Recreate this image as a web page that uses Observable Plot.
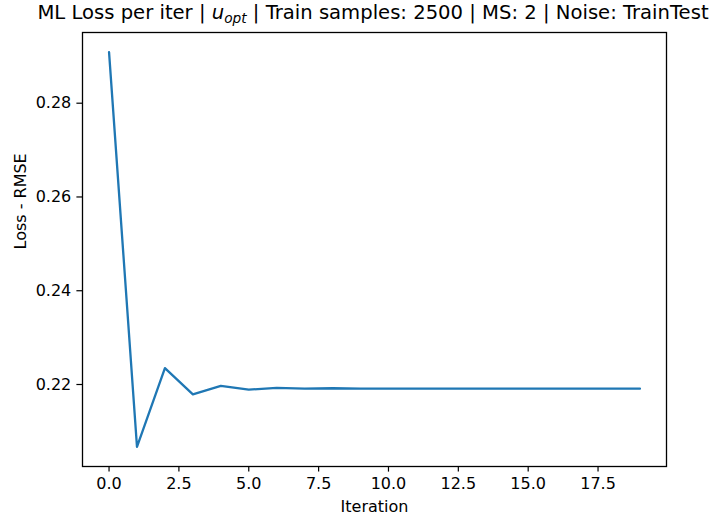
<!DOCTYPE html>
<html>
<head>
<meta charset="utf-8">
<script src="https://cdn.jsdelivr.net/npm/d3@7"></script>
<script src="https://cdn.jsdelivr.net/npm/@observablehq/plot@0.6"></script>
<style>
  html, body { margin: 0; padding: 0; background: #fff; }
  body { width: 717px; height: 518px; overflow: hidden; font-family: "DejaVu Sans", sans-serif; }
  #title { position: relative; height: 31px; }
  #title span { position: absolute; left: 0px; width: 746px; top: 1px; text-align: center; font-size: 19.6px; line-height: 24px; white-space: nowrap; color: #000; }
  #title sub { font-size: 13.7px; font-style: italic; vertical-align: -4px; line-height: 0; }
  svg { display: block; }
</style>
</head>
<body>
<div id="title"><span>ML Loss per iter | <i>u</i><sub>opt</sub> | Train samples: 2500 | MS: 2 | Noise: TrainTest</span></div>
<div id="chart"></div>
<script>
const iterations = [0,1,2,3,4,5,6,7,8,9,10,11,12,13,14,15,16,17,18,19];
const loss = [0.2909, 0.2067, 0.2235, 0.2179, 0.2197, 0.2189, 0.2193, 0.2191, 0.2192, 0.2191,
              0.2191, 0.2191, 0.2191, 0.2191, 0.2191, 0.2191, 0.2191, 0.2191, 0.2191, 0.2191];
const xTicks = [0, 2.5, 5, 7.5, 10, 12.5, 15, 17.5];
const yTicks = [0.22, 0.24, 0.26, 0.28];
const xLabel = "Iteration";
const yLabel = "Loss - RMSE";

const data = iterations.map((it, i) => ({it, v: loss[i]}));

const chart = Plot.plot({
  width: 717,
  height: 487,
  marginTop: 1,
  marginBottom: 52,
  marginLeft: 82,
  marginRight: 51,
  style: {fontFamily: "DejaVu Sans, sans-serif", fontSize: "16px", color: "#000", background: "#fff"},
  x: {domain: [-0.95, 19.95]},
  y: {domain: [0.20251, 0.29508]},
  marks: [
    Plot.line(data, {x: "it", y: "v", stroke: "#1f77b4", strokeWidth: 2.3}),
    Plot.frame({stroke: "#000", strokeWidth: 1.3}),
    Plot.axisX({ticks: xTicks, tickFormat: d => d.toFixed(1), tickSize: 5.6, tickPadding: 5.6, fontSize: 16, label: null, strokeWidth: 1.2}),
    Plot.axisY({ticks: yTicks, tickFormat: d => d.toFixed(2), tickSize: 5.6, tickPadding: 5.6, fontSize: 16, label: null, strokeWidth: 1.2}),
    Plot.text([xLabel], {frameAnchor: "bottom", dy: 45, text: d => d, fontSize: 16, fill: "#000"}),
    Plot.text([yLabel], {frameAnchor: "left", dx: -62, rotate: -90, text: d => d, fontSize: 16, fill: "#000"})
  ]
});
document.getElementById("chart").appendChild(chart);
</script>
</body>
</html>
